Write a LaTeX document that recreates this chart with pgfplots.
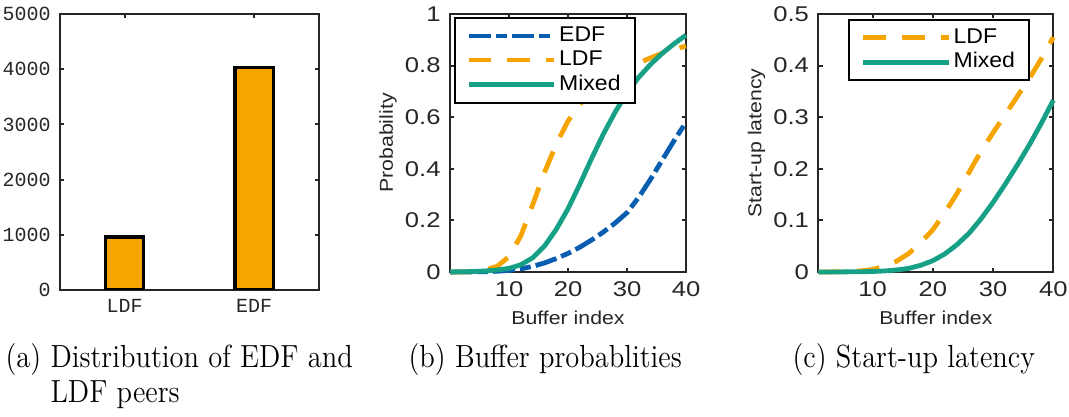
\documentclass[border=0pt]{standalone}
\usepackage{fontspec}
\usepackage{pgfplots}
\pgfplotsset{compat=1.18}
\newfontfamily\hel[FakeStretch=1.2]{Liberation Sans}
\newfontfamily\helleg[FakeStretch=1.08]{Liberation Sans}
\newfontfamily\hellab[FakeStretch=1.14]{Liberation Sans}
\newfontfamily\cour{Liberation Mono}
\newfontfamily\capfont[FakeStretch=0.89]{Latin Modern Roman}
\definecolor{edfblue}{RGB}{10,94,176}
\definecolor{ldforange}{RGB}{245,164,0}
\definecolor{mixteal}{RGB}{22,160,133}
\definecolor{axgray}{RGB}{38,38,38}
\pgfplotsset{
  base/.style={
    scale only axis,
    axis line style={axgray, line width=0.8pt},
    tick style={axgray, line width=0.7pt},
    major tick length=1.6pt,
    tick align=inside,
    /pgf/number format/assume math mode=true,
    scaled ticks=false,
    /pgf/number format/1000 sep={},
  },
  curves/.style={
    base, clip=false,
    tick label style={font=\hel\fontsize{8}{9}\selectfont, text=axgray},
    label style={font=\hellab\fontsize{7}{8}\selectfont, text=axgray},
    xlabel style={at={(axis description cs:0.5,-0.205)}, anchor=base},
    ylabel style={at={(axis description cs:-0.263,0.5)}, anchor=center},
    xlabel={Buffer index},
    xmax=40, xtick={10,20,30,40},
    legend cell align=left,
    legend style={anchor=north west, draw=black, line width=0.75pt,
      font=\helleg\fontsize{8}{9}\selectfont,
      inner xsep=4.25pt, inner ysep=2.2pt,
      nodes={inner sep=1pt, text depth=0.15em}},
    legend image code/.code={\draw[##1] (0pt,0pt) -- (32pt,0pt);},
  },
  edf/.style={edfblue, line width=1.8pt, dash pattern=on 8.25pt off 1.9pt on 4.1pt off 1.9pt},
  ldf/.style={ldforange, line width=1.8pt, dash pattern=on 8.5pt off 6pt},
  mix/.style={mixteal, line width=1.8pt},
}
\begin{document}
\begin{tikzpicture}
\useasboundingbox (0,0) rectangle (400.875pt,-156.375pt);

% (a)
\begin{axis}[base,
  at={(22.5pt,-108.75pt)}, anchor=south west,
  width=97.1pt, height=103.5pt,
  xmin=0.5, xmax=2.5, ymin=0, ymax=5000,
  xtick={1,2}, xticklabels={LDF,EDF},
  ytick={0,1000,2000,3000,4000,5000},
  tick label style={font=\cour\fontsize{7.5}{9}\selectfont, text=axgray},
]
\addplot[ybar, bar width=0.296, fill=ldforange, draw=black, line width=1.2pt]
  coordinates {(1,960) (2,4030)};
\end{axis}

% (b)
\begin{axis}[curves,
  at={(168.75pt,-102pt)}, anchor=south west,
  width=88.5pt, height=96.75pt,
  xmin=0, ymin=0, ymax=1,
  ytick={0,0.2,0.4,0.6,0.8,1},
  ylabel={Probability},
  legend style={at={(0.017,0.988)}},
]
\addplot[edf] coordinates {(0,0) (2,0) (4,0.0005) (6,0.001) (8,0.003) (10,0.006) (12,0.012) (14,0.022) (16,0.035) (18,0.052) (20,0.072) (22,0.096) (24,0.124) (26,0.155) (28,0.19) (30,0.23) (32,0.29) (34,0.36) (36,0.435) (38,0.51) (40,0.58)};
\addlegendentry{EDF}
\addplot[ldf] coordinates {(0,0) (2,0) (4,0.002) (6,0.008) (8,0.022) (10,0.06) (12,0.14) (14,0.26) (16,0.385) (18,0.495) (20,0.585) (22,0.65) (24,0.70) (26,0.735) (28,0.765) (30,0.79) (32,0.81) (34,0.83) (36,0.848) (38,0.863) (40,0.876)};
\addlegendentry{LDF}
\addplot[mix] coordinates {(0,0) (2,0.001) (4,0.002) (6,0.004) (8,0.008) (10,0.014) (12,0.028) (14,0.055) (16,0.10) (18,0.165) (20,0.245) (22,0.34) (24,0.44) (26,0.535) (28,0.62) (30,0.695) (32,0.755) (34,0.805) (36,0.848) (38,0.885) (40,0.918)};
\addlegendentry{Mixed}
\end{axis}

% (c)
\begin{axis}[curves,
  at={(306.9pt,-102pt)}, anchor=south west,
  width=88.1pt, height=96.75pt,
  xmin=1, ymin=0, ymax=0.5,
  ytick={0,0.1,0.2,0.3,0.4,0.5},
  ylabel={Start-up latency},
  legend style={at={(0.128,0.981)}},
]
\addplot[ldf] coordinates {(1,0) (4,0.0003) (6,0.001) (8,0.002) (10,0.005) (12,0.011) (14,0.021) (16,0.036) (18,0.057) (20,0.082) (22,0.115) (24,0.152) (26,0.193) (28,0.234) (30,0.27) (32,0.305) (34,0.34) (36,0.375) (38,0.413) (40,0.455)};
\addlegendentry{LDF}
\addplot[mix] coordinates {(1,0) (4,0.0001) (8,0.0005) (10,0.001) (12,0.002) (14,0.004) (16,0.007) (18,0.013) (20,0.022) (22,0.035) (24,0.053) (26,0.075) (28,0.103) (30,0.135) (32,0.17) (34,0.207) (36,0.246) (38,0.288) (40,0.333)};
\addlegendentry{Mixed}
\end{axis}

% captions
\begin{scope}[every node/.style={anchor=base west, inner sep=0pt, font=\capfont\fontsize{12}{14}\selectfont}]
\node at (1.9pt,-137.8pt) {(a) Distribution of EDF and};
\node at (18.75pt,-151.1pt) {LDF peers};
\node at (153pt,-137.8pt) {(b) Buffer probablities};
\node at (297pt,-137.8pt) {(c) Start-up latency};
\end{scope}
\end{tikzpicture}
\end{document}
